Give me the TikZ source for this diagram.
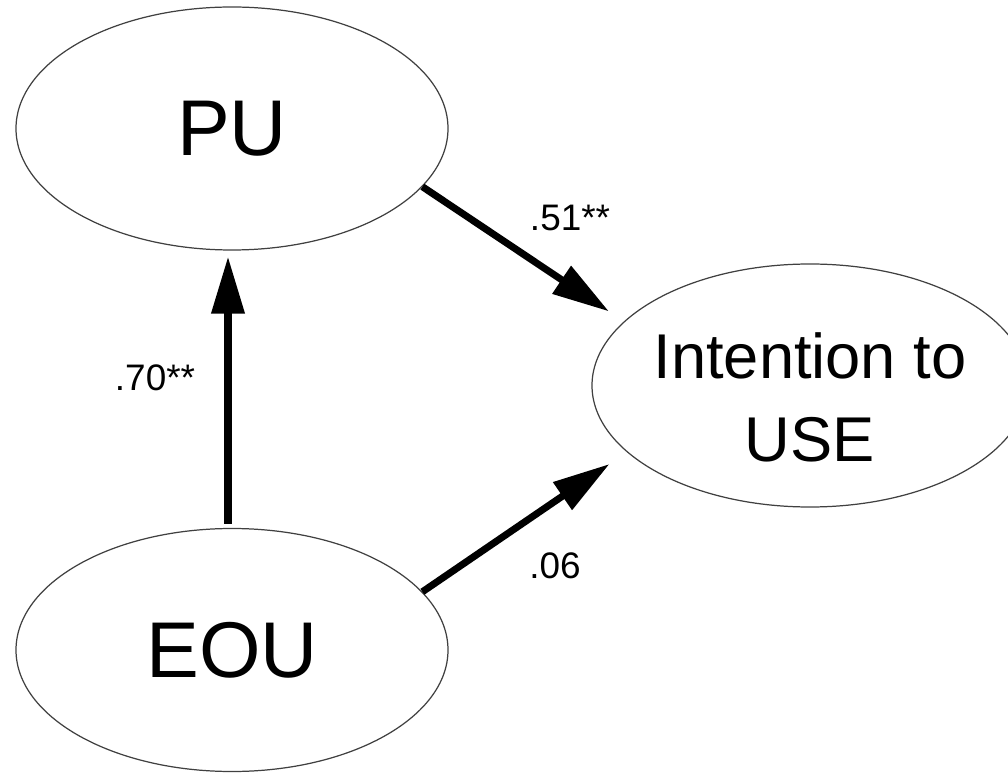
\documentclass[tikz,border=0pt]{standalone}
\usepackage{fontspec}
\setmainfont{Liberation Sans}
\usetikzlibrary{shapes.geometric,arrows.meta}

\tikzset{
  construct/.style={ellipse,draw=black!75,line width=0.7pt,inner sep=0pt,
    minimum width=8.64cm,minimum height=4.86cm,font=\fontsize{45}{54}\selectfont},
  effect/.style={line width=4pt,-{Triangle[length=1.14cm,width=0.64cm]}},
  coef/.style={font=\fontsize{21}{25}\selectfont,inner sep=0pt},
}

\begin{document}
\begin{tikzpicture}
      \useasboundingbox (0,0) rectangle (20.16,15.44);%

      \node[construct] (PU) at (4.64,12.87) {PU};%
      \node[construct] (EOU) at (4.64,2.44) {EOU};%
      \node[construct,minimum width=8.72cm] (INT) at (16.2,7.73) {};%
      \node[align=center,font=\fontsize{36}{47}\selectfont] (INTT) at
      ([yshift=-0.24cm]INT.center) {Intention to\\USE};%

      \node[coef] (B1) at (11.4,11.08) {.51**};%
      \node[coef] (B2) at (3.10,7.88) {.70**};%
      \node[coef] (B3) at (11.1,4.12) {.06};%

      \draw[effect,shorten <=0.08cm,shorten >=0.12cm] ([xshift=-0.08cm]EOU.north)
      -- ([xshift=-0.08cm]PU.south);%
      \draw[effect,shorten >=0.36cm] (PU.-17.6) -- (INT.161.3);%
      \draw[effect,shorten >=0.42cm] (EOU.17.6) -- (INT.200.7);%
\end{tikzpicture}
\end{document}
